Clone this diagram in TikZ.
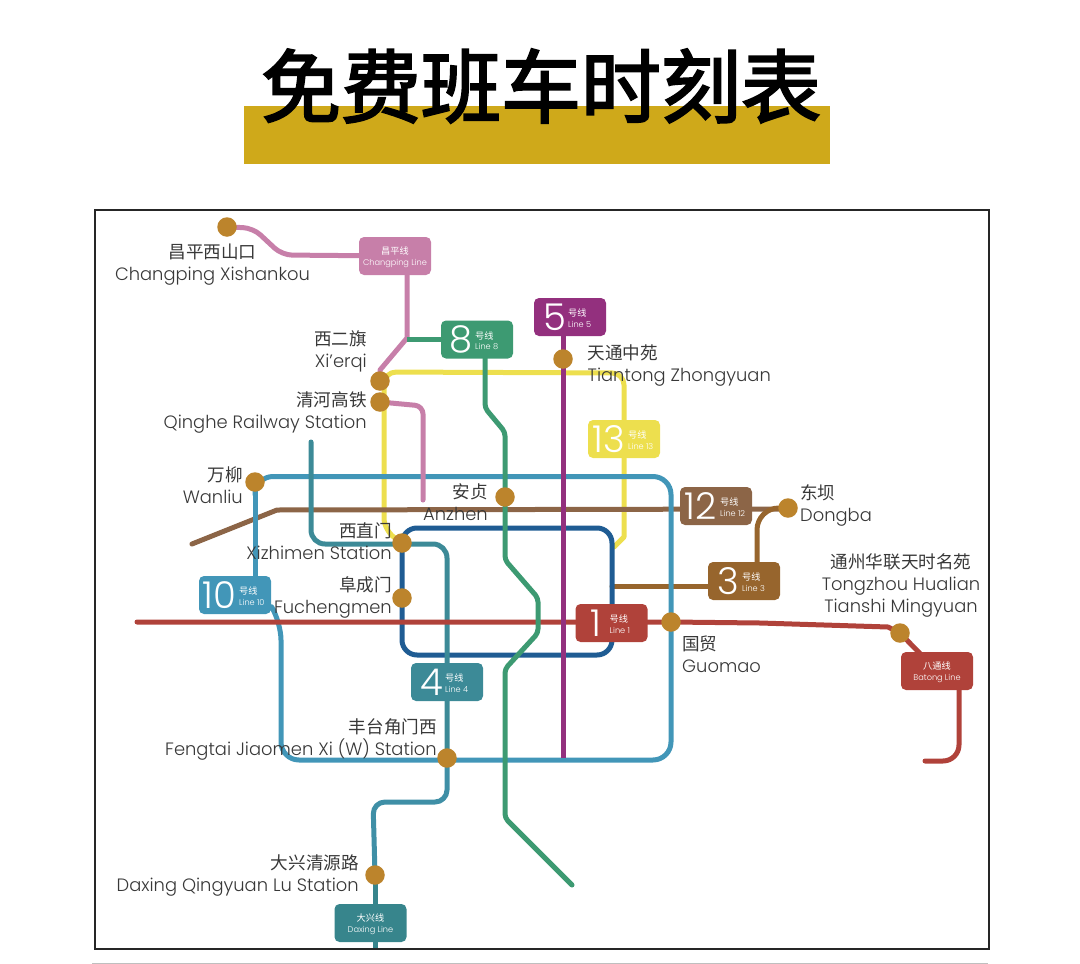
\documentclass[tikz,border=0pt]{standalone}
\usepackage{fontspec}
\setmainfont{Poppins}[UprightFont=* Light]
\newfontfamily\cjkf{Noto Sans CJK SC}
\newfontfamily\cjktitle{Noto Sans CJK SC}[FakeBold=2.6]
\usetikzlibrary{calc,backgrounds}
\definecolor{cpink}{HTML}{C77FA9}
\definecolor{cgreen}{HTML}{3D9A72}
\definecolor{cpurple}{HTML}{93307E}
\definecolor{cyellow}{HTML}{EDDF4E}
\definecolor{cbrownB}{HTML}{8C6547}
\definecolor{cbrownC}{HTML}{97652D}
\definecolor{cred}{HTML}{B0423A}
\definecolor{cblue}{HTML}{4296B8}
\definecolor{cnavy}{HTML}{1F5C93}
\definecolor{cteal}{HTML}{3C8A97}
\definecolor{cdaxing}{HTML}{37858C}
\definecolor{clow}{HTML}{3F8FA6}
\definecolor{cstation}{HTML}{BC842C}
\definecolor{cgold}{HTML}{CFA91A}
\definecolor{ctext}{HTML}{383838}
\tikzset{
  x=1pt,y=-1pt,
  lbox/.style={fill=#1,rounded corners=5pt,minimum width=72pt,minimum height=38pt,inner sep=0pt,draw=none},
  stn/.style={circle,fill=cstation,minimum size=19.5pt,inner sep=0pt},
  lbl/.style={text=ctext,inner sep=0pt,font=\fontsize{17.9}{22}\selectfont},
  tline/.style={line width=5pt,draw=#1,line cap=round,line join=round},
  bignum/.style={text=white,inner sep=0pt,font=\fontsize{37}{37}\selectfont},
  smalltxt/.style={text=white,inner sep=0pt,font=\fontsize{8.2}{10.5}\selectfont},
}
\newcommand{\cn}[1]{{\cjkf\fontsize{17.6}{22}\selectfont #1}}
\newcommand{\cs}[1]{{\cjkf\fontsize{9.2}{10.5}\selectfont #1}}
% name, cx, cy, colour, number, left offset of the small text, English
\newcommand{\numbox}[7]{%
  \node[lbox=#4] (#1) at (#2,#3) {};
  \node[bignum] (#1num) at ($(#1.center)+(-15.5,0)$) {#5};
  \node[smalltxt,align=left,anchor=west] (#1tx) at ($(#1.center)+(#6,1)$) {\cs{号线}\\#7};
}
% name, cx, cy, colour, Chinese, English
\newcommand{\namebox}[6]{%
  \node[lbox=#4] (#1) at (#2,#3) {};
  \node[smalltxt,align=center] (#1tx) at ($(#1.center)+(0,1)$) {\cs{#5}\\#6};
}
\begin{document}
\begin{tikzpicture}
\useasboundingbox (0,0) rectangle (1080,964);
% title
\node[fill=cgold,minimum width=586pt,minimum height=58pt,inner sep=0pt] (band) at (537,135) {};
\node[inner sep=0pt,font=\fontsize{80}{80}\selectfont\cjktitle] (title) at (541,86) {免费班车时刻表};
% frame
\node[draw=black!85,line width=2pt,minimum width=894pt,minimum height=739pt,inner sep=0pt] (frame) at (542,579.5) {};
\coordinate (ruleL) at (92,963.5);
\coordinate (ruleR) at (988,963.5);
\draw[black!25,line width=1pt] (ruleL) -- (ruleR);
% line boxes
\namebox{cp}{395}{256}{cpink}{昌平线}{Changping Line}
\numbox{l8}{477}{339.5}{cgreen}{8}{-2}{Line 8}
\numbox{l5}{570}{317}{cpurple}{5}{-2}{Line 5}
\numbox{l13}{624}{439}{cyellow}{13}{4}{Line 13}
\numbox{l12}{716}{506}{cbrownB}{12}{4}{Line 12}
\numbox{l3}{744}{581}{cbrownC}{3}{-2}{Line 3}
\numbox{l1}{611.5}{623}{cred}{1}{-2}{Line 1}
\numbox{l10}{235}{595}{cblue}{10}{4}{Line 10}
\numbox{l4}{447}{682}{cteal}{4}{-2}{Line 4}
\namebox{dx}{370.5}{923}{cdaxing}{大兴线}{Daxing Line}
\namebox{bt}{937}{671}{cred}{八通线}{Batong Line}
% stations
\node[stn] (sCP) at (227,227) {};
\node[stn] (sXE) at (380,381) {};
\node[stn] (sQH) at (380,402) {};
\node[stn] (sWL) at (255,482) {};
\node[stn] (sAZ) at (505,497) {};
\node[stn] (sXZ) at (402,543) {};
\node[stn] (sFC) at (402,598) {};
\node[stn] (sFT) at (447,758) {};
\node[stn] (sDX) at (375,875) {};
\node[stn] (sTT) at (563,359) {};
\node[stn] (sDB) at (788,508) {};
\node[stn] (sGM) at (671,622) {};
\node[stn] (sTZ) at (900,633) {};
% labels
\node[lbl,align=center] (tCP) at (212.5,265) {\cn{昌平西山口}\\Changping Xishankou};
\node[lbl,align=right,anchor=east] (tXE) at (367,351) {\cn{西二旗}\\Xi’erqi};
\node[lbl,align=right,anchor=east] (tQH) at (367,412) {\cn{清河高铁}\\Qinghe Railway Station};
\node[lbl,align=right,anchor=east] (tWL) at (243,485) {\cn{万柳}\\Wanliu};
\node[lbl,align=right,anchor=east] (tAZ) at (488,502) {\cn{安贞}\\Anzhen};
\node[lbl,align=right,anchor=east] (tXZ) at (392,541.5) {\cn{西直门}\\Xizhimen Station};
\node[lbl,align=right,anchor=east] (tFC) at (392,597.5) {\cn{阜成门}\\Fuchengmen};
\node[lbl,align=right,anchor=east] (tFT) at (437,739) {\cn{丰台角门西}\\Fengtai Jiaomen Xi (W) Station};
\node[lbl,align=right,anchor=east] (tDX) at (359,875) {\cn{大兴清源路}\\Daxing Qingyuan Lu Station};
\node[lbl,align=left,anchor=west] (tTT) at (587.5,366) {\cn{天通中苑}\\Tiantong Zhongyuan};
\node[lbl,align=left,anchor=west] (tDB) at (800,505.5) {\cn{东坝}\\Dongba};
\node[lbl,align=center] (tTZ) at (901,585) {\cn{通州华联天时名苑}\\Tongzhou Hualian\\Tianshi Mingyuan};
\node[lbl,align=left,anchor=west] (tGM) at (682,654) {\cn{国贸}\\Guomao};
% free ends
\coordinate (yEnd) at (614,547);
\coordinate (navyA) at (402,528);
\coordinate (brW) at (192,544);
\coordinate (brE) at (788,509);
\coordinate (l3W) at (612,586);
\coordinate (l3E) at (720,586);
\coordinate (redW) at (137,622);
\coordinate (grS) at (572,885);
\coordinate (grN) at (505,432);
\coordinate (pinkS) at (423,500);
\coordinate (tealN) at (311,442);
\coordinate (btS) at (925,761);
\coordinate (dxS) at (375,948);
\begin{pgfonlayer}{background}
% line 13
\draw[tline=cyellow,rounded corners=12pt] (sXZ.center) -- (384,530) -- (384,372) -- (624,373) -- (624,420);
\draw[tline=cyellow] (l13.center) -- (624,537) -- (yEnd);
% line 12
\draw[tline=cbrownB] (brW) -- (277,510) -- (brE);
% line 3
\draw[tline=cbrownC] (l3W) -- (l3E);
\draw[tline=cbrownC,rounded corners=22pt] (757,581) -- (757,508) -- (sDB.center);
% line 2
\draw[tline=cnavy,rounded corners=15pt] (navyA) -- (612,528) -- (612,655) -- (402,655) -- cycle;
% line 10
\draw[tline=cblue,rounded corners=18pt] (sWL.center) |- (671,476.5) -- (671,760) -- (281,760) -- (281,622) [rounded corners=6pt] -- (271,606) -- (l10.center);
\draw[tline=cblue] (sWL.center) -- (sWL.center |- l10.center);
% line 4
\draw[tline=cteal,rounded corners=14pt] (tealN) -- (311,544) -- (447,544) -- (sFT.center);
\draw[tline=clow,rounded corners=12pt] (sFT.center) -- (447,802) -- (373,802) -- (374,837) -- (sDX.center);
\draw[tline=cdaxing] (sDX.center) -- (sDX.center |- dx.center);
\draw[tline=cdaxing,line cap=butt] (sDX.center |- dx.center) -- (dxS);
% Changping line
\draw[tline=cpink,rounded corners=10pt] (sCP.center) -- (253,228) -- (282,255) -- (cp.center);
\draw[tline=cpink] (407,256) -- (407,338) -- (380,370) -- (sXE.center);
\draw[tline=cpink,rounded corners=8pt] (sQH.center) -- (423,406) -- (pinkS);
% line 1
\draw[tline=cred] (redW) -- (sGM.center) -- (760,623) -- (888,627) -- (sTZ.center) -- (bt.center);
\draw[tline=cred,rounded corners=16pt] (959,680) -- (959,761) -- (btS);
% line 8
\draw[tline=cgreen,line cap=butt] (l8.center) -- (407,339.5);
\draw[tline=cgreen,rounded corners=4pt] (485,345) -- (485,408) -- (grN) -- (505,560) -- (538,598) -- (538,633) -- (505,669) -- (505,818) -- (grS);
% line 5
\draw[tline=cpurple,line cap=butt] (563,320) -- (sTT.center) -- (563,758);
\end{pgfonlayer}
\end{tikzpicture}
\end{document}
